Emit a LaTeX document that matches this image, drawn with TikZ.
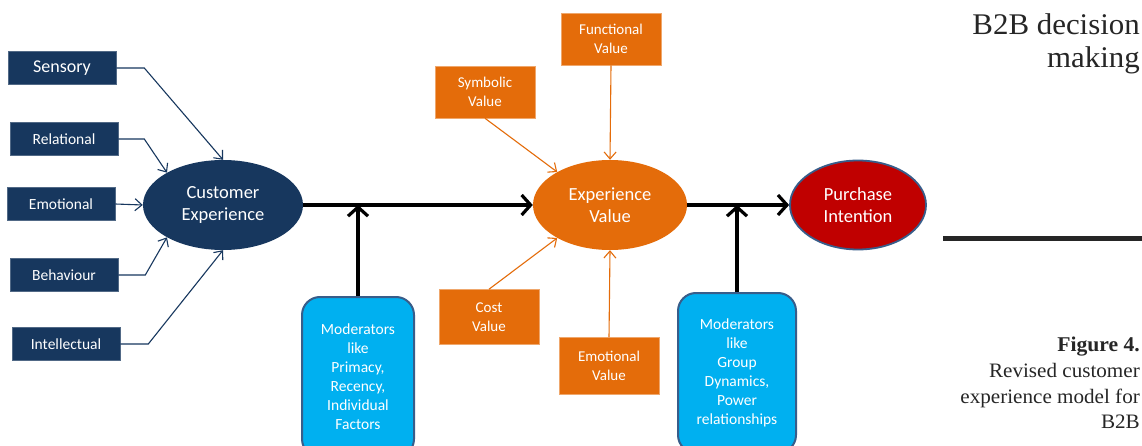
\documentclass[tikz,border=0pt]{standalone}
\usepackage{fontspec}
\setmainfont{Carlito}
\newfontfamily\serifcap[FakeStretch=1.03]{Liberation Serif}
\usetikzlibrary{arrows.meta,shapes.geometric}
\definecolor{navy}{RGB}{23,55,94}
\definecolor{orng}{RGB}{228,108,10}
\definecolor{sky}{RGB}{0,176,240}
\definecolor{crim}{RGB}{192,0,0}
\definecolor{bord}{RGB}{56,93,138}
\begin{document}
\begin{tikzpicture}[x=1pt,y=-1pt,
  navybox/.style={rectangle, fill=navy, draw=navy!75!white, line width=0.6pt, text=white,
    minimum width=108, minimum height=33, inner sep=0, font=\fontsize{15.5}{18}\selectfont},
  orbox/.style={rectangle, fill=orng, draw=orng!60!white, line width=0.6pt, text=white,
    minimum width=100, minimum height=52, inner sep=0, align=center, font=\fontsize{15}{19}\selectfont},
  modbox/.style={rectangle, rounded corners=18, fill=sky, draw=bord, line width=2, text=white,
    minimum height=160, inner sep=0, align=center, font=\fontsize{15.5}{19}\selectfont},
  ell/.style={ellipse, inner sep=0, text=white, align=center, font=\fontsize{18.5}{22.5}\selectfont},
  navyarrow/.style={draw=navy, line width=1.1, -{Straight Barb[length=7,width=12]}},
  orarrow/.style={draw=orng, line width=1.1, -{Straight Barb[length=7,width=12]}},
  thick arrow/.style={draw=black, line width=4, -{Straight Barb[length=9,width=20,line width=3.2]}},
  captext/.style={anchor=base east, inner sep=0, text=black!85}
]
\clip (0,0) rectangle (1142,446);
\fill[white] (0,0) rectangle (1142,446);

% left inputs
\node[navybox, font=\fontsize{18}{20}\selectfont] (sen) at (62,68) {Sensory};
\node[navybox] (rel) at (64,139) {Relational};
\node[navybox] (emo) at (61,204) {Emotional};
\node[navybox] (beh) at (64,275) {Behaviour};
\node[navybox] (int) at (66,344) {Intellectual};

% ellipses
\node[ell, fill=navy, minimum width=160, minimum height=90] (ce) at (223,205) {Customer\\Experience};
\node[ell, fill=orng, minimum width=154, minimum height=90] (ev) at (610,205) {Experience\\Value};
\node[ell, fill=crim, draw=bord, line width=1.8, minimum width=136, minimum height=89] (pi) at (858,205) {Purchase\\Intention};

% orange value boxes
\node[orbox] (fun) at (611,39) {Functional\\Value};
\node[orbox] (sym) at (485,92) {Symbolic\\Value};
\node[orbox, minimum height=55] (cost) at (489,317) {Cost\\Value};
\node[orbox, minimum height=57] (emv) at (609,366) {Emotional\\Value};

% moderators
\node[modbox, minimum width=112] (m1) at (358,377) {Moderators\\like\\Primacy,\\Recency,\\Individual\\Factors};
\node[modbox, minimum width=118] (m2) at (737,373) {Moderators\\like\\Group\\Dynamics,\\Power\\relationships};

% thin connectors into Customer Experience
\draw[navyarrow] (sen.east) -- ++(28,0) -- (ce.north);
\draw[navyarrow] (rel.east) -- ++(26,0) -- (ce.150);
\draw[navyarrow] (emo.east) -- (ce.west);
\draw[navyarrow] (beh.east) -- ++(27,0) -- (ce.210);
\draw[navyarrow] (int.east) -- ++(28,0) -- (ce.south);

% thin connectors into Experience Value
\draw[orarrow] (fun.south) -- (ev.north);
\draw[orarrow] (sym.south) -- (ev.148);
\draw[orarrow] (cost.north) -- (ev.212);
\draw[orarrow] (emv.north) -- (ev.south);

% thick connectors
\draw[thick arrow] (ce.east) -- (ev.west);
\draw[thick arrow] (ev.east) -- (pi.west);
\draw[thick arrow] (m1.north) -- (m1.north |- ce.east);
\draw[thick arrow] (m2.north) -- (m2.north |- ev.east);

% right-hand page material
\node[captext, font=\serifcap\fontsize{30}{33}\selectfont] (h1) at (1140,35) {B2B decision};
\node[captext, font=\serifcap\fontsize{30}{33}\selectfont] (h2) at (1140,68) {making};
\coordinate (rl) at (943,239);
\coordinate (rr) at (1142,239);
\draw[line width=5, black!85] (rl) -- (rr);
\node[captext, font=\serifcap\bfseries\fontsize{21}{24}\selectfont] (c1) at (1140,351) {Figure 4.};
\node[captext, font=\serifcap\fontsize{20.5}{24}\selectfont] (c2) at (1140,377) {Revised customer};
\node[captext, font=\serifcap\fontsize{20.5}{24}\selectfont] (c3) at (1140,403) {experience model for};
\node[captext, font=\serifcap\fontsize{20.5}{24}\selectfont] (c4) at (1140,428) {B2B};
\end{tikzpicture}
\end{document}
